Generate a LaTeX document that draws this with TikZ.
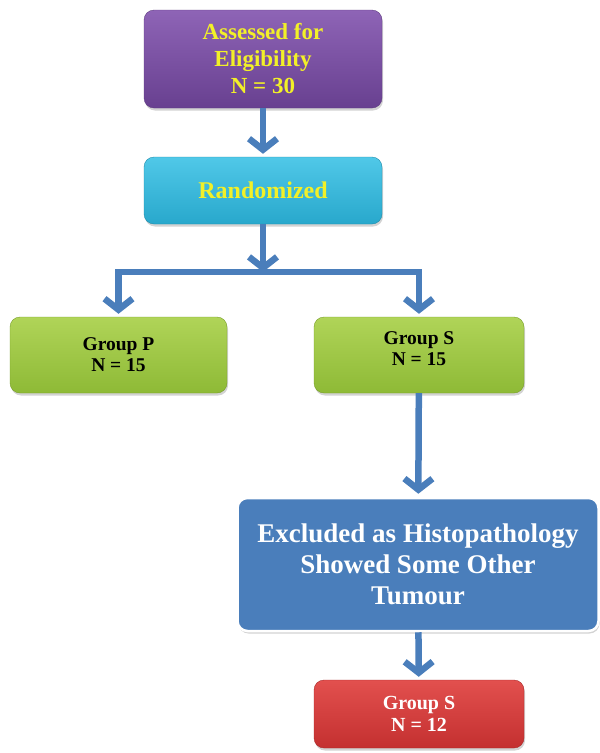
\documentclass[tikz,border=0pt]{standalone}
\usepackage{fontspec}
\setmainfont{Liberation Serif}
\usepackage{tikz}
\usetikzlibrary{arrows.meta,shadows}
\definecolor{flowblue}{RGB}{74,126,187}
\definecolor{txtyellow}{RGB}{242,240,40}

\begin{document}
\begin{tikzpicture}[x=1pt,y=-1pt,
  box/.style={rounded corners=10pt,align=center,font=\bfseries,inner sep=2pt,
    drop shadow={opacity=0.35,shadow xshift=1pt,shadow yshift=-2.5pt}},
  flow/.style={draw=flowblue,line width=6.5pt,shorten >=3pt,
    -{Straight Barb[length=11pt,width=28pt]}}]
  \useasboundingbox (0,0) rectangle (600,753);
  \node[box,draw={rgb,255:red,96;green,60;blue,130},top color={rgb,255:red,142;green,100;blue,182},
    bottom color={rgb,255:red,104;green,64;blue,144},text=txtyellow,
    minimum width=238pt,minimum height=98pt,font=\bfseries\fontsize{23}{27}\selectfont]
    (assess) at (263,59) {Assessed for\\ Eligibility\\ N = 30};
  \node[box,draw={rgb,255:red,30;green,140;blue,170},top color={rgb,255:red,80;green,200;blue,232},
    bottom color={rgb,255:red,40;green,168;blue,204},text=txtyellow,
    minimum width=238pt,minimum height=67pt,font=\bfseries\fontsize{24}{27}\selectfont]
    (rand) at (263,190.5) {Randomized};
  \coordinate (split) at (263,272);
  \node[box,draw={rgb,255:red,120;green,158;blue,40},top color={rgb,255:red,176;green,212;blue,88},
    bottom color={rgb,255:red,142;green,186;blue,54},text=black,
    minimum width=217pt,minimum height=76pt,font=\bfseries\fontsize{19.5}{21}\selectfont]
    (grpP) at (118.5,355) {Group P\\ N = 15};
  \node[box,draw={rgb,255:red,120;green,158;blue,40},top color={rgb,255:red,176;green,212;blue,88},
    bottom color={rgb,255:red,142;green,186;blue,54},text=black,
    minimum width=210pt,minimum height=76pt,font=\bfseries\fontsize{19.5}{21}\selectfont]
    (grpS) at (419,355) {Group S\\ N = 15\\[-8pt]};
  \node[box,draw=white,line width=2.5pt,fill=flowblue,text=white,
    minimum width=361pt,minimum height=133pt,font=\bfseries\fontsize{27}{31}\selectfont]
    (excl) at (418,564.5) {Excluded as Histopathology\\ Showed Some Other\\ Tumour};
  \node[box,draw={rgb,255:red,170;green,40;blue,40},top color={rgb,255:red,226;green,80;blue,78},
    bottom color={rgb,255:red,196;green,48;blue,48},text=white,
    minimum width=210pt,minimum height=68pt,font=\bfseries\fontsize{20}{22}\selectfont]
    (grpS2) at (419,714) {Group S\\ N = 12};
  % connectors
  \draw[flow] (assess) -- (rand);
  \draw[flow,shorten >=0pt] (rand) -- (split);
  \draw[flow,line join=miter] (split) -| (grpP.north);
  \draw[flow,line join=miter] (split) -| (grpS.north);
  \draw[flow] (grpS) -- (excl);
  \draw[flow] (excl) -- (grpS2);
\end{tikzpicture}
\end{document}
